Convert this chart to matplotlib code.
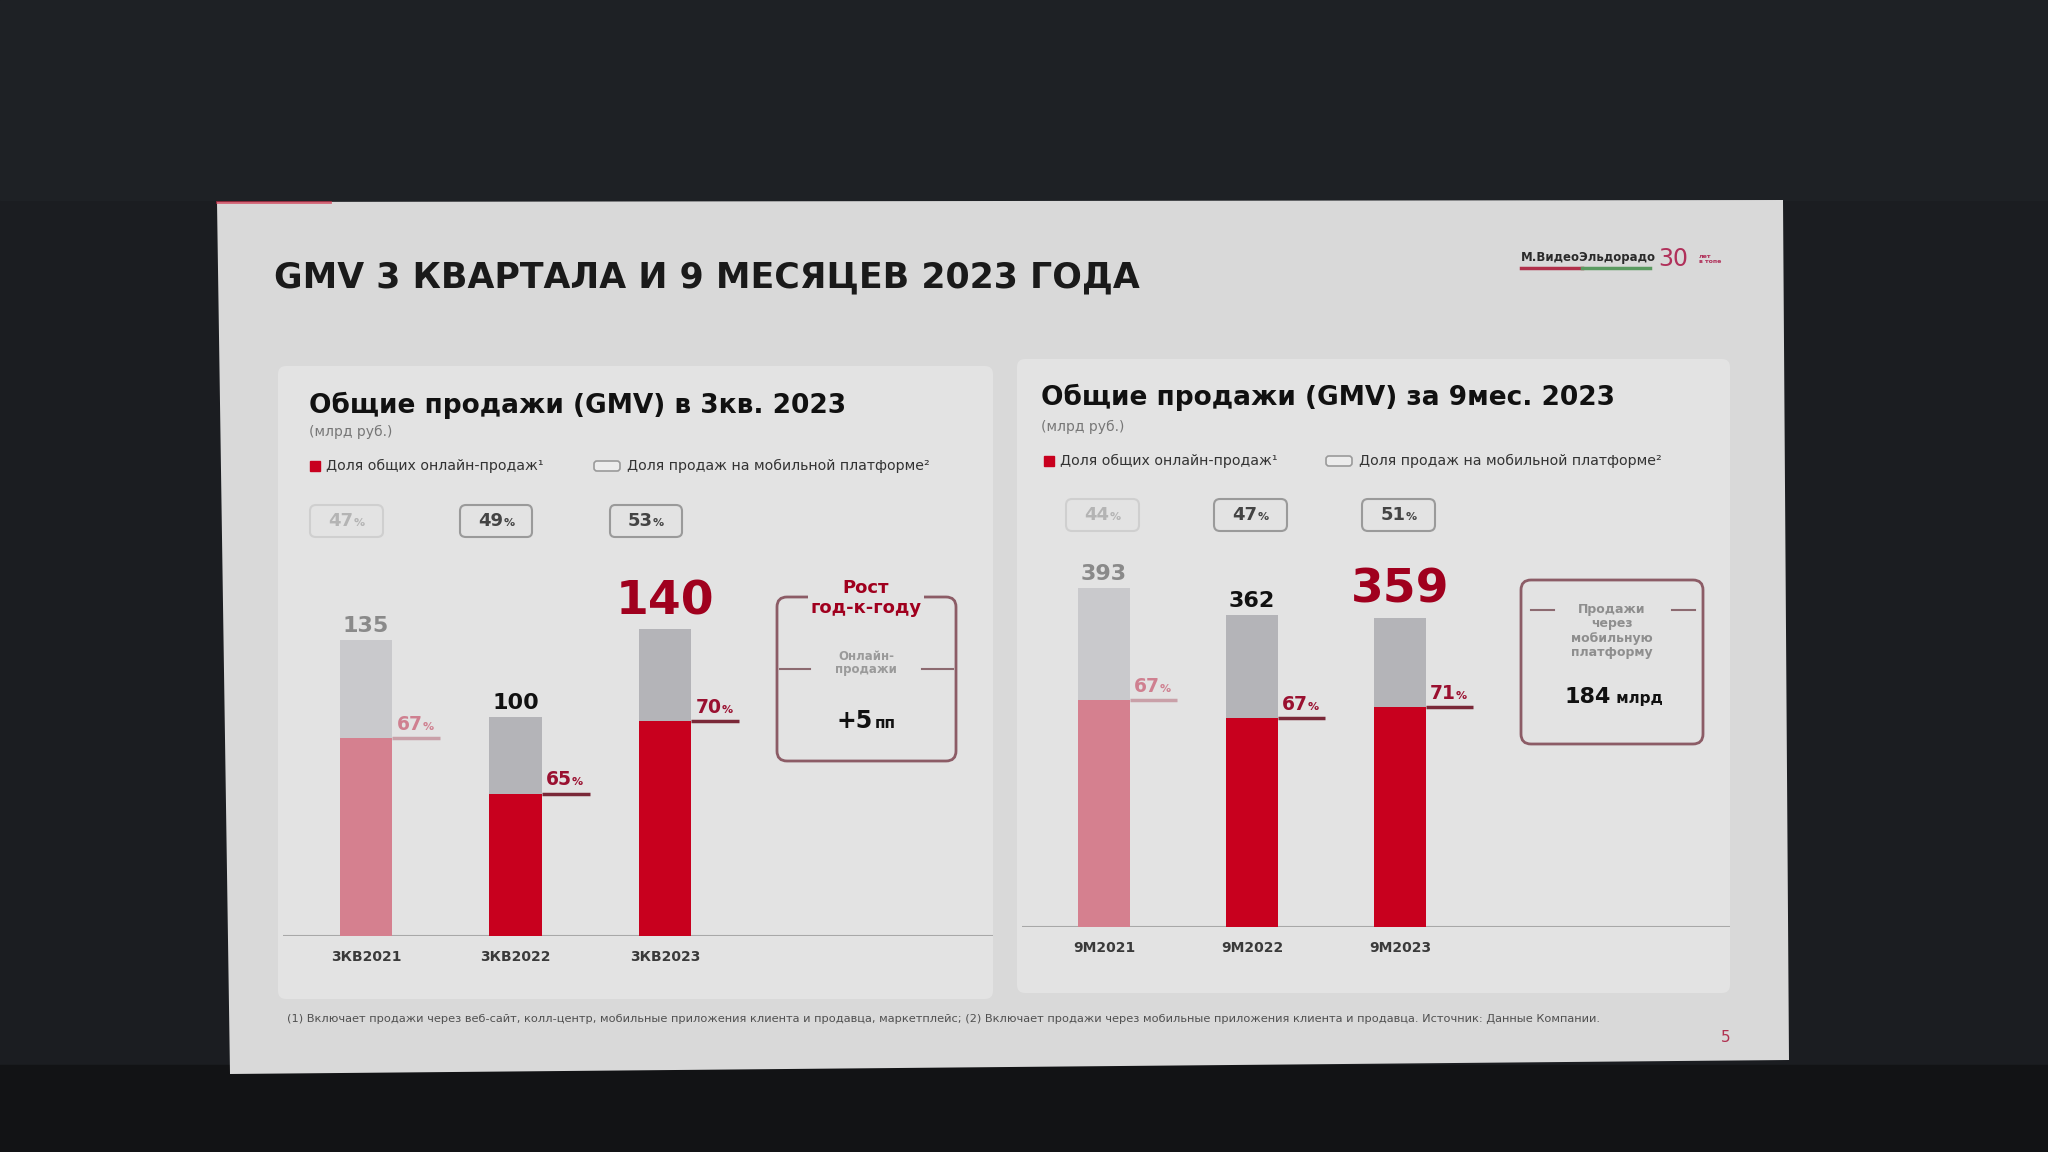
import numpy as np
import matplotlib
matplotlib.use('Agg')
import matplotlib.pyplot as plt
from matplotlib.patches import Polygon, Rectangle, FancyBboxPatch
from matplotlib.offsetbox import TextArea, HPacker, DrawingArea, AnnotationBbox
from matplotlib import font_manager

# --- data ---
q_labels = ['3КВ2021', '3КВ2022', '3КВ2023']
q_total = np.array([135, 100, 140])
q_online = np.array([67, 65, 70])      # доля онлайн-продаж, %
q_mobile = np.array([47, 49, 53])      # доля мобильной платформы, %

m_labels = ['9М2021', '9М2022', '9М2023']
m_total = np.array([393, 362, 359])
m_online = np.array([67, 67, 71])
m_mobile = np.array([44, 47, 51])

W, H = 2048, 1152
SLIDE = '#d9d9d9'
PANEL = '#e3e3e3'
RED = '#c8001e'
DARKRED = '#a0001e'

fig = plt.figure(figsize=(20.48, 11.52), dpi=100)
fig.patch.set_facecolor('#1b1d21')

# background axes in pixel coordinates (y down)
bg = fig.add_axes([0, 0, 1, 1])
bg.set_xlim(0, W)
bg.set_ylim(H, 0)
bg.axis('off')
bg.add_patch(Rectangle((0, 0), W, 200, color='#1e2125'))
bg.add_patch(Rectangle((0, 1065), W, 90, color='#121315'))
bg.add_patch(Polygon([(217, 202), (1783, 200), (1789, 1060), (230, 1074)],
                     closed=True, fc=SLIDE, ec='none'))
bg.plot([217, 330], [202, 202], color='#d0304a', lw=2, alpha=0.7)

# panels
for (x0, y0, x1, y1) in [(278, 366, 993, 999), (1017, 359, 1730, 993)]:
    bg.add_patch(FancyBboxPatch((x0, y0), x1 - x0, y1 - y0,
                                boxstyle='round,pad=0,rounding_size=8',
                                fc=PANEL, ec='none'))

# slide title
bg.text(274, 277, 'GMV 3 КВАРТАЛА И 9 МЕСЯЦЕВ 2023 ГОДА', fontsize=25,
        fontweight='bold', color='#1a1a1a', va='center', ha='left')

# logo
bg.text(1521, 257, 'М.ВидеоЭльдорадо', fontsize=8.5, fontweight='bold',
        color='#2a2a2a', va='center', ha='left')
bg.plot([1521, 1582], [268, 268], color='#b0304a', lw=2.5)
bg.plot([1582, 1650], [268, 268], color='#5a9a60', lw=2.5)
bg.text(1658, 259, '30', fontsize=17, color='#b0305a', va='center', ha='left')
bg.text(1699, 259, 'лет\nв топе', fontsize=4.5, fontweight='bold',
        color='#b0305a', va='center', ha='left', linespacing=0.9)

# panel headers + legends
headers = [
    (309, 405, 'Общие продажи (GMV) в 3кв. 2023', 432, (315, 466), (594, 466)),
    (1041, 397, 'Общие продажи (GMV) за 9мес. 2023', 427, (1049, 461), (1326, 461)),
]
for hx, hy, htxt, sy, sq, bx in headers:
    bg.text(hx, hy, htxt, fontsize=19, fontweight='bold', color='#111111',
            va='center', ha='left')
    bg.text(hx, sy, '(млрд руб.)', fontsize=10, color='#777777',
            va='center', ha='left')
    bg.add_patch(Rectangle((sq[0] - 5, sq[1] - 5), 10, 10, color=RED))
    bg.text(sq[0] + 11, sq[1], 'Доля общих онлайн-продаж¹', fontsize=10.2,
            color='#333333', va='center', ha='left')
    bg.add_patch(FancyBboxPatch((bx[0], bx[1] - 5), 26, 10,
                                boxstyle='round,pad=0,rounding_size=3',
                                fc='#ececec', ec='#9a9a9a', lw=1.2))
    bg.text(bx[0] + 33, bx[1], 'Доля продаж на мобильной платформе²',
            fontsize=10.2, color='#333333', va='center', ha='left')

# callout boxes
def callout(x0, y0, x1, y1):
    bg.add_patch(FancyBboxPatch((x0, y0), x1 - x0, y1 - y0,
                                boxstyle='round,pad=0,rounding_size=10',
                                fc='none', ec='#8c5c66', lw=2))

callout(777, 597, 956, 761)
bg.text(866, 598, 'Рост\nгод-к-году', fontsize=13, fontweight='bold',
        color=DARKRED, ha='center', va='center', linespacing=1.15,
        bbox=dict(fc=PANEL, ec='none', pad=2))
bg.plot([780, 810], [669, 669], color='#8c6a70', lw=1.5)
bg.plot([922, 953], [669, 669], color='#8c6a70', lw=1.5)
bg.text(866, 663, 'Онлайн-\nпродажи', fontsize=8.5, fontweight='bold',
        color='#9a9a9a', ha='center', va='center', linespacing=1.1)
plus = HPacker(children=[TextArea('+5', textprops=dict(fontsize=17, fontweight='bold', color='#111111')),
                         TextArea('пп', textprops=dict(fontsize=11, fontweight='bold', color='#111111'))],
               align='baseline', pad=0, sep=1)
bg.add_artist(AnnotationBbox(plus, (866, 721), xycoords='data', frameon=False))

callout(1521, 580, 1703, 744)
bg.plot([1531, 1554], [610, 610], color='#8c6a70', lw=1.5)
bg.plot([1672, 1695], [610, 610], color='#8c6a70', lw=1.5)
bg.text(1612, 631, 'Продажи\nчерез\nмобильную\nплатформу', fontsize=9,
        fontweight='bold', color='#8e8e8e', ha='center', va='center',
        linespacing=1.15)
mob = HPacker(children=[TextArea('184', textprops=dict(fontsize=16, fontweight='bold', color='#111111')),
                        TextArea(' млрд', textprops=dict(fontsize=11, fontweight='bold', color='#111111'))],
              align='baseline', pad=0, sep=0)
bg.add_artist(AnnotationBbox(mob, (1614, 697), xycoords='data', frameon=False))

# footnote and page number
names = {f.name for f in font_manager.fontManager.ttflist}
foot_font = 'Liberation Sans Narrow' if 'Liberation Sans Narrow' in names else 'DejaVu Sans'
bg.text(287, 1019,
        '(1) Включает продажи через веб-сайт, колл-центр, мобильные приложения клиента и продавца, '
        'маркетплейс; (2) Включает продажи через мобильные приложения клиента и продавца. '
        'Источник: Данные Компании.',
        fontsize=8.2, family=foot_font, color='#505050', va='center', ha='left')
bg.text(1726, 1038, '5', fontsize=11, color='#b03050', va='center', ha='center')


def px_axes(x0, y0, x1, y1):
    return fig.add_axes([x0 / W, 1 - y1 / H, (x1 - x0) / W, (y1 - y0) / H])


def pct_box(num, big, small, color):
    return HPacker(children=[TextArea(str(num), textprops=dict(fontsize=big, fontweight='bold', color=color)),
                             TextArea('%', textprops=dict(fontsize=small, fontweight='bold', color=color))],
                   align='baseline', pad=0, sep=0)


def draw_chart(ax, labels, total, online, mobile, box_dx, box_y):
    ax.set_facecolor('none')
    ax.axis('off')
    x = np.arange(len(total))
    w = 0.35
    red_h = total * online / 100
    red_c = ['#d5808f', RED, RED]
    grey_c = ['#c9c9cc', '#b4b4b8', '#b4b4b8']
    ax.bar(x, red_h, w, color=red_c, zorder=2)
    ax.bar(x, total - red_h, w, bottom=red_h, color=grey_c, zorder=2)
    ax.axhline(0, color='#a8a8a8', lw=1.5, zorder=1)

    tot_size = [16, 16, 34]
    tot_col = ['#8a8a8a', '#111111', DARKRED]
    tot_off = [6, 6, 11]
    pct_col = ['#cf8090', '#9a1030', '#9a1030']
    line_col = ['#c9a0a8', '#7a2838', '#7a2838']
    box_txt = ['#b4b4b4', '#444444', '#444444']
    box_edge = ['#cfcfcf', '#9a9a9a', '#9a9a9a']
    for i in range(len(total)):
        ax.annotate(str(total[i]), (x[i], total[i]), xytext=(0, tot_off[i]),
                    textcoords='offset points', ha='center', va='baseline',
                    fontsize=tot_size[i], fontweight='bold', color=tot_col[i])
        xr = x[i] + w / 2
        ax.plot([xr, xr + 0.32], [red_h[i], red_h[i]], color=line_col[i],
                lw=2.5, solid_capstyle='butt', zorder=3)
        ab = AnnotationBbox(pct_box(online[i], 13.5, 8, pct_col[i]), (xr, red_h[i]),
                            xybox=(3, 3), boxcoords='offset points',
                            box_alignment=(0, 0), frameon=False)
        ax.add_artist(ab)
        inner = HPacker(children=[DrawingArea(8, 1), pct_box(mobile[i], 13, 8, box_txt[i]),
                                  DrawingArea(8, 1)], align='baseline', pad=0, sep=0)
        bb = AnnotationBbox(inner, (x[i] + box_dx, box_y), xycoords=('data', 'axes fraction'),
                            frameon=True,
                            bboxprops=dict(boxstyle='round,pad=0.5,rounding_size=0.4',
                                           fc=PANEL, ec=box_edge[i], lw=1.5))
        ax.add_artist(bb)
        ax.annotate(labels[i], (x[i], 0), xytext=(0, -15), textcoords='offset points',
                    ha='center', va='center', fontsize=10, fontweight='bold',
                    color='#3a3a3a', annotation_clip=False)


axL = px_axes(283, 490, 993, 936)
axL.set_xlim(-0.555, 4.19)
axL.set_ylim(0, 446 / 2.19)
draw_chart(axL, q_labels, q_total, q_online, q_mobile, -0.13, 0.93)

axR = px_axes(1022, 490, 1730, 927)
axR.set_xlim(-0.554, 4.23)
axR.set_ylim(0, 437 / 0.862)
draw_chart(axR, m_labels, m_total, m_online, m_mobile, -0.01, 0.943)

fig.savefig('out.png', dpi=100, facecolor=fig.get_facecolor())
